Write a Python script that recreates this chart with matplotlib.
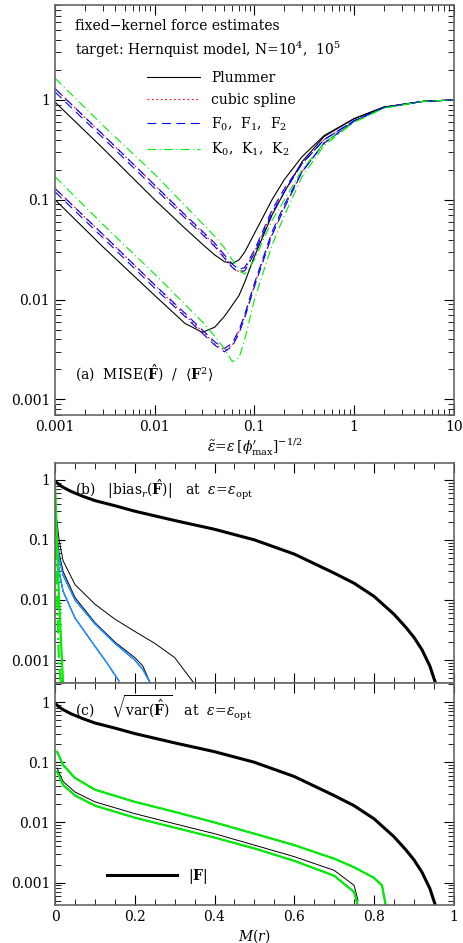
import numpy as np
import matplotlib.pyplot as plt

plt.rcParams['font.family'] = 'DejaVu Serif'
plt.rcParams['mathtext.fontset'] = 'dejavuserif'

# ---- panel (a): MISE vs softening, N=1e4 (upper) and N=1e5 (lower)
eps_a = [0.001, 0.003, 0.01, 0.02, 0.03, 0.04, 0.05, 0.06, 0.07, 0.08, 0.1, 0.15, 0.2, 0.3, 0.5, 1, 2, 5, 10]
plum_4 = [0.95, 0.33, 0.10, 0.052, 0.036, 0.028, 0.024, 0.023, 0.025, 0.030, 0.046, 0.10, 0.16, 0.27, 0.44, 0.65, 0.85, 0.97, 1.0]
plum_5 = [0.10, 0.034, 0.011, 0.0058, 0.0047, 0.0053, 0.0068, 0.0088, 0.011, 0.015, 0.027, 0.07, 0.12, 0.24, 0.43, 0.65, 0.85, 0.97, 1.0]
spl_4 = [1.30, 0.45, 0.14, 0.07, 0.047, 0.035, 0.027, 0.021, 0.019, 0.020, 0.03, 0.075, 0.12, 0.23, 0.40, 0.62, 0.84, 0.97, 1.0]
spl_5 = [0.13, 0.045, 0.014, 0.007, 0.0048, 0.0036, 0.0031, 0.0035, 0.0048, 0.0068, 0.014, 0.045, 0.085, 0.19, 0.37, 0.61, 0.84, 0.97, 1.0]
f_4 = [1.20, 0.42, 0.13, 0.066, 0.045, 0.034, 0.026, 0.021, 0.0185, 0.0195, 0.029, 0.073, 0.12, 0.23, 0.40, 0.62, 0.84, 0.97, 1.0]
f_5 = [0.12, 0.042, 0.013, 0.0068, 0.0046, 0.0035, 0.0030, 0.0034, 0.0046, 0.0066, 0.0135, 0.044, 0.083, 0.19, 0.37, 0.61, 0.84, 0.97, 1.0]
k_4 = [1.65, 0.56, 0.18, 0.088, 0.058, 0.043, 0.033, 0.025, 0.020, 0.018, 0.025, 0.062, 0.10, 0.20, 0.37, 0.60, 0.83, 0.97, 1.0]
k_5 = [0.17, 0.057, 0.018, 0.009, 0.006, 0.0043, 0.0032, 0.0024, 0.0026, 0.0040, 0.010, 0.035, 0.07, 0.17, 0.35, 0.60, 0.83, 0.97, 1.0]

# ---- panels (b), (c): vs enclosed mass
m_F = [0.0, 0.01, 0.02, 0.04, 0.07, 0.1, 0.15, 0.2, 0.3, 0.4, 0.5, 0.6, 0.7, 0.75, 0.8, 0.85, 0.88, 0.9, 0.92, 0.94, 0.955, 0.96]
abs_F = [0.95, 0.83, 0.75, 0.64, 0.53, 0.45, 0.37, 0.30, 0.21, 0.15, 0.10, 0.058, 0.028, 0.019, 0.0115, 0.0058, 0.0035, 0.0024, 0.0015, 0.0008, 0.0004, 0.0003]

m_b = [0.003, 0.01, 0.02, 0.05, 0.1, 0.15, 0.2, 0.25, 0.3, 0.35]
bias_plum4 = [0.25, 0.1, 0.045, 0.018, 0.0085, 0.0048, 0.003, 0.0019, 0.0011, 0.0004]
m_b2 = [0.003, 0.01, 0.02, 0.05, 0.1, 0.15, 0.2, 0.22, 0.24]
bias_plum5 = [0.15, 0.06, 0.03, 0.011, 0.0042, 0.002, 0.0011, 0.0008, 0.0004]
bias_spl4 = [0.12, 0.05, 0.026, 0.010, 0.0040, 0.0019, 0.001, 0.0007, 0.0004]
m_b3 = [0.003, 0.01, 0.02, 0.05, 0.1, 0.13, 0.16]
bias_spl5 = [0.09, 0.03, 0.014, 0.005, 0.0017, 0.0009, 0.00045]
m_bk = [0.0, 0.003, 0.006, 0.01, 0.015, 0.02]
bias_k4 = [0.8, 0.2, 0.05, 0.01, 0.002, 0.0004]
bias_k5 = [0.5, 0.05, 0.006, 0.0008, 0.0004, 0.0003]

m_c = [0.005, 0.02, 0.05, 0.1, 0.2, 0.3, 0.4, 0.5, 0.6, 0.7, 0.75, 0.8, 0.82, 0.83]
var_4 = [0.15, 0.09, 0.055, 0.035, 0.022, 0.015, 0.010, 0.0065, 0.0042, 0.0025, 0.0018, 0.0012, 0.0009, 0.0004]
m_c2 = [0.005, 0.02, 0.05, 0.1, 0.2, 0.3, 0.4, 0.5, 0.6, 0.7, 0.75, 0.76]
var_plum5 = [0.08, 0.048, 0.032, 0.022, 0.014, 0.0095, 0.0065, 0.0042, 0.0027, 0.0016, 0.0009, 0.0005]
var_5 = [0.07, 0.042, 0.028, 0.019, 0.012, 0.0082, 0.0056, 0.0037, 0.0023, 0.0013, 0.0007, 0.0004]

fig = plt.figure(figsize=(4.63, 9.43), dpi=100)
axa = fig.add_axes([0.119, 0.56, 0.861, 0.435])
axb = fig.add_axes([0.119, 0.276, 0.861, 0.233])
axc = fig.add_axes([0.119, 0.040, 0.861, 0.236])

def style(ax):
    ax.tick_params(which='both', direction='in', top=True, right=True, labelsize=10)
    ax.tick_params(which='major', length=7)
    ax.tick_params(which='minor', length=4)
    for s in ax.spines.values():
        s.set_linewidth(1.2)
        s.set_color('0.4')

# panel a
kw = dict(lw=0.8)
offset = np.where(np.array(eps_a) < 0.3, 1.08, 1.0)
for y4, y5, c, ls, lab in [(plum_4, plum_5, 'black', '-', 'Plummer'),
                           (spl_4, spl_5, 'red', (0, (1.5, 2.5)), 'cubic spline'),
                           (f_4, f_5, 'blue', (0, (8, 5)), r'F$_0$,  F$_1$,  F$_2$'),
                           (k_4, k_5, '#00ee00', (0, (8, 3, 1, 3)), r'K$_0$,  K$_1$,  K$_2$')]:
    axa.plot(eps_a, y4, color=c, ls=ls, label=lab, **kw)
    axa.plot(eps_a, y5, color=c, ls=ls, **kw)
    if c == 'blue':
        axa.plot(eps_a, np.array(y4) * offset, color=c, ls=ls, **kw)
        axa.plot(eps_a, np.array(y5) * offset, color=c, ls=ls, **kw)
axa.set_xscale('log'); axa.set_yscale('log')
axa.set_xlim(0.001, 10); axa.set_ylim(7e-4, 9)
axa.set_xticks([0.001, 0.01, 0.1, 1, 10])
axa.set_xticklabels(['0.001', '0.01', '0.1', '1', '10'])
axa.set_yticks([0.001, 0.01, 0.1, 1])
axa.set_yticklabels(['0.001', '0.01', '0.1', '1'])
axa.set_xlabel(r'$\tilde{\epsilon}\!=\!\epsilon\,[\phi^{\prime}_{\rm max}]^{-1/2}$', fontsize=10, labelpad=2)
axa.text(0.05, 0.965, 'fixed\u2212kernel force estimates', transform=axa.transAxes, fontsize=10, va='top')
axa.text(0.05, 0.915, r'target: Hernquist model, N=10$^4$,  10$^5$', transform=axa.transAxes, fontsize=10, va='top')
axa.text(0.05, 0.085, r'(a)  MISE($\hat{\mathbf{F}}$)  /  $\langle \mathbf{F}^2 \rangle$', transform=axa.transAxes, fontsize=10)
axa.legend(loc='upper left', bbox_to_anchor=(0.2, 0.87), frameon=False, fontsize=10,
           handlelength=3.8, handletextpad=0.8, labelspacing=0.6)
style(axa)

# panel b
axb.plot(m_F, abs_F, color='black', lw=2.2)
axb.plot(m_b, bias_plum4, color='black', lw=0.7)
axb.plot(m_b2, bias_plum5, color='black', lw=0.7)
for c in ['magenta', 'blue', '#00bfff']:
    axb.plot(m_b2, bias_spl4, color=c, lw=0.8)
    axb.plot(m_b3, bias_spl5, color=c, lw=0.8)
axb.plot(m_bk, bias_k4, color='#00ee00', lw=1.6)
axb.plot(m_bk, bias_k5, color='#00ee00', lw=1.6, ls=(0, (6, 2, 1, 2)))
axb.set_yscale('log')
axb.set_xlim(0, 1); axb.set_ylim(4.2e-4, 1.9)
axb.set_yticks([0.001, 0.01, 0.1, 1])
axb.set_yticklabels(['0.001', '0.01', '0.1', '1'])
axb.set_xticks(np.arange(0, 1.01, 0.2)); axb.set_xticklabels([])
axb.set_xticks(np.arange(0, 1.01, 0.05), minor=True)
axb.text(0.05, 0.93, r'(b)   $|{\rm bias}_r(\hat{\mathbf{F}})|$   at  $\epsilon\!=\!\epsilon_{\rm opt}$',
         transform=axb.transAxes, fontsize=10, va='top')
style(axb)

# panel c
axc.plot(m_F, abs_F, color='black', lw=2.2, label=r'$|\mathbf{F}|$')
for c in ['black', 'magenta', 'blue', '#00bfff']:
    axc.plot(m_c, var_4, color=c, lw=0.8)
axc.plot(m_c, var_4, color='#00ee00', lw=1.6)
axc.plot(m_c2, var_plum5, color='black', lw=0.7)
for c in ['magenta', 'blue', '#00bfff']:
    axc.plot(m_c2, var_5, color=c, lw=0.8)
axc.plot(m_c2, var_5, color='#00ee00', lw=1.6)
axc.set_yscale('log')
axc.set_xlim(0, 1); axc.set_ylim(4.2e-4, 2.1)
axc.set_yticks([0.001, 0.01, 0.1, 1])
axc.set_yticklabels(['0.001', '0.01', '0.1', '1'])
axc.set_xticks(np.arange(0, 1.01, 0.2))
axc.set_xticklabels(['0', '0.2', '0.4', '0.6', '0.8', '1'])
axc.set_xticks(np.arange(0, 1.01, 0.05), minor=True)
axc.set_xlabel(r'$M(r)$', fontsize=10, labelpad=2)
axc.text(0.05, 0.95, r'(c)    $\sqrt{{\rm var}(\hat{\mathbf{F}})}$   at  $\epsilon\!=\!\epsilon_{\rm opt}$',
         transform=axc.transAxes, fontsize=10, va='top')
axc.legend(loc='lower left', bbox_to_anchor=(0.1, 0.03), frameon=False, fontsize=10, handlelength=5)
style(axc)

fig.savefig('out.png', dpi=100)
